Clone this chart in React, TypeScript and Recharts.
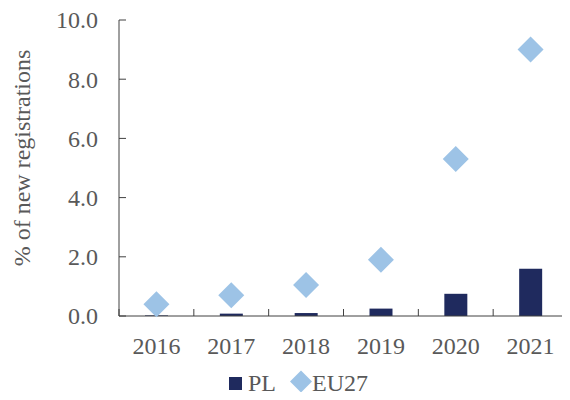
import * as React from 'react';
import {
  ComposedChart,
  Bar,
  Scatter,
  XAxis,
  YAxis,
  Legend
} from "recharts";

const years = ["2016", "2017", "2018", "2019", "2020", "2021"];
const plValues = [0.02, 0.08, 0.1, 0.25, 0.75, 1.6];
const eu27Values = [0.4, 0.7, 1.05, 1.9, 5.3, 9.0];
const yTicks = [0, 2, 4, 6, 8, 10];

const data = years.map((year, i) => ({
  year,
  PL: plValues[i],
  EU27: eu27Values[i]
}));

const FONT = "'Times New Roman', Times, Tinos, 'Liberation Serif', serif";
const TEXT = "#595959";
const AXIS = "#404040";
const NAVY = "#1F2A5E";
const LIGHT = "#9DC3E6";

const W = 562;
const H = 384;
const LEFT = 111;
const RIGHT = 2;
const HALF_BAND = (W - LEFT - RIGHT) / years.length / 2;

const textStyle = { fontFamily: FONT, fontSize: 24, fill: TEXT };

const XTick = (props: any) => {
  const { x, y, payload, index } = props;
  const last = index === years.length - 1;
  return (
    <g>
      <line x1={x - HALF_BAND} x2={x - HALF_BAND} y1={y} y2={y - 7} stroke={AXIS} />
      {last && <line x1={x + HALF_BAND} x2={x + HALF_BAND} y1={y} y2={y - 7} stroke={AXIS} />}
      <text x={x} y={y + 38} textAnchor="middle" style={textStyle}>
        {payload.value}
      </text>
    </g>
  );
};

const YTick = (props: any) => {
  const { x, y, payload } = props;
  return (
    <g>
      <line x1={x} x2={x + 7} y1={y} y2={y} stroke={AXIS} />
      <text x={x - 21} y={y} dy="0.35em" textAnchor="end" style={textStyle}>
        {payload.value.toFixed(1)}
      </text>
    </g>
  );
};

const Diamond = (props: any) => {
  const { cx, cy } = props;
  const r = 13;
  return (
    <polygon
      points={`${cx},${cy - r} ${cx + r},${cy} ${cx},${cy + r} ${cx - r},${cy}`}
      fill={LIGHT}
    />
  );
};

const renderLegend = () => (
  <div style={{ height: 18, position: 'relative' }}>
    <svg width={W} height={18} style={{ overflow: 'visible' }}>
      <rect x={221} y={3} width={13} height={13} fill={NAVY} />
      <text x={240} y={17} style={textStyle}>PL</text>
      <polygon points="293,-3.5 304,7.5 293,18.5 282,7.5" fill={LIGHT} />
      <text x={304} y={17} style={textStyle}>EU27</text>
    </svg>
  </div>
);

const YLabel = () => (
  <text
    x={14}
    y={150}
    transform="rotate(-90 14 150)"
    textAnchor="middle"
    dominantBaseline="central"
    style={textStyle}
  >
    % of new registrations
  </text>
);

export default function App() {
  return (
    <ComposedChart
      width={W}
      height={H}
      data={data}
      margin={{ top: 12, right: RIGHT, left: 0, bottom: 0 }}
    >
      <XAxis
        dataKey="year"
        height={58}
        stroke={AXIS}
        tickLine={false}
        tickSize={0}
        tickMargin={0}
        tick={<XTick />}
        interval={0}
      />
      <YAxis
        width={LEFT}
        domain={[0, 10]}
        ticks={yTicks}
        stroke={AXIS}
        tickLine={false}
        tickSize={0}
        tickMargin={0}
        tick={<YTick />}
        label={{ content: <YLabel /> }}
      />
      <Legend
        verticalAlign="bottom"
        content={renderLegend}
        wrapperStyle={{ left: 0, width: W }}
      />
      <Bar dataKey="PL" fill={NAVY} barSize={23} isAnimationActive={false} />
      <Scatter dataKey="EU27" fill={LIGHT} shape={<Diamond />} isAnimationActive={false} />
    </ComposedChart>
  );
}
